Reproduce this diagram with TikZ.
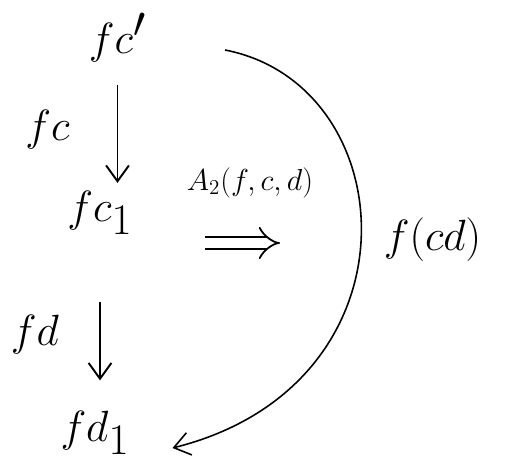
\documentclass[tikz,border=0pt]{standalone}
\usepackage{amsmath}
\usepackage{tikz}
\usetikzlibrary{arrows.meta, positioning, calc}

\begin{document}
\begin{tikzpicture}[
    big/.style={inner sep=0pt, font=\fontsize{33}{38}\selectfont},
    lab/.style={inner sep=1pt, font=\fontsize{26}{30}\selectfont},
    arrow/.style={-{Straight Barb[length=9pt, width=13pt]}, line width=1.1pt},
    dblarrow/.style={-{Implies}, double, double distance=5.5pt, line width=1pt}
]
    \useasboundingbox (0,0) rectangle (10.14,9.3);

    % objects
    \node[big] (fcp) at (2.35,8.55) {$fc'$};
    \node[big] (fcone) at (2.0,5.05) {$fc_1$};
    \node[big] (fdone) at (1.9,0.65) {$fd_1$};

    % labels
    \node[lab] (lfc) at (0.95,6.7) {$fc$};
    \node[lab] (lfd) at (0.7,2.6) {$fd$};
    \node[font=\fontsize{18}{22}\selectfont] (la) at (5.0,5.65) {$A_2(f,c,d)$};
    \node[lab, font=\fontsize{30}{34}\selectfont] (lfcd) at (8.65,4.5) {$f(cd)$};

    \coordinate (dstart) at (4.1,4.44);
    \coordinate (dend) at (5.6,4.44);
    \coordinate (cstart) at (4.5,8.3);
    \coordinate (cend) at (3.45,0.34);

    \draw[arrow] ([yshift=-0.45cm]fcp.south) -- ([yshift=0.15cm]fcp.south |- fcone.north);
    \draw[arrow] ([yshift=-1.35cm]fcone.south) -- ([yshift=0.6cm]fcone.south |- fdone.north);
    \draw[dblarrow] (dstart) -- (dend);
    \draw[arrow, line width=0.9pt] (cstart) .. controls (8.1,7.6) and (8.5,1.6) .. (cend);
\end{tikzpicture}
\end{document}
